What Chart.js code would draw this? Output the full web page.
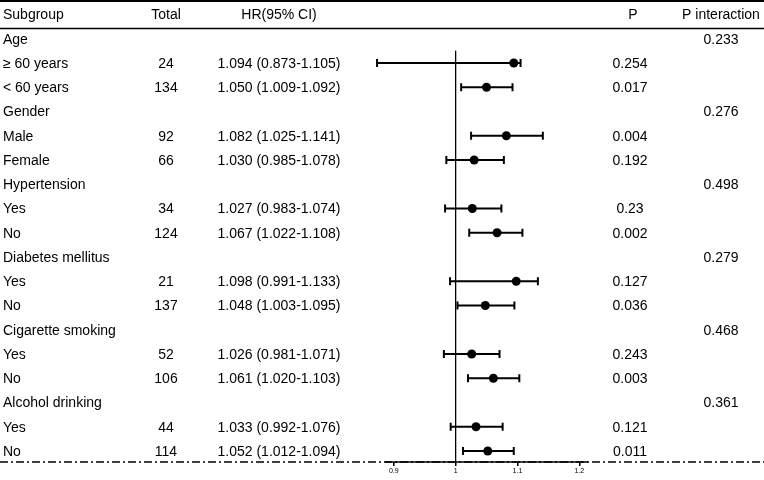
<!DOCTYPE html>
<html lang="en">
<head>
<meta charset="UTF-8">
<title>Subgroup analysis forest plot</title>
<script src="https://cdn.jsdelivr.net/npm/chart.js"></script>
<style>
  body { margin: 0; background: #fff; }
  #wrap { width: 764px; height: 480px; }
</style>
</head>
<body>
<div id="wrap"><canvas id="forest" width="764" height="480"></canvas></div>
<script>
// table rows (row 0 is the header)
const subgroups = ['Age', '≥ 60 years', '< 60 years', 'Gender', 'Male', 'Female',
  'Hypertension', 'Yes', 'No', 'Diabetes mellitus', 'Yes', 'No',
  'Cigarette smoking', 'Yes', 'No', 'Alcohol drinking', 'Yes', 'No'];
const totals = ['', '24', '134', '', '92', '66', '', '34', '124', '', '21', '137', '', '52', '106', '', '44', '114'];
const hr    = [null, 1.094, 1.050, null, 1.082, 1.030, null, 1.027, 1.067, null, 1.098, 1.048, null, 1.026, 1.061, null, 1.033, 1.052];
const lower = [null, 0.873, 1.009, null, 1.025, 0.985, null, 0.983, 1.022, null, 0.991, 1.003, null, 0.981, 1.020, null, 0.992, 1.012];
const upper = [null, 1.105, 1.092, null, 1.141, 1.078, null, 1.074, 1.108, null, 1.133, 1.095, null, 1.071, 1.103, null, 1.076, 1.094];
const pValues = ['', '0.254', '0.017', '', '0.004', '0.192', '', '0.23', '0.002', '', '0.127', '0.036', '', '0.243', '0.003', '', '0.121', '0.011'];
const pInteraction = ['0.233', '', '', '0.276', '', '', '0.498', '', '', '0.279', '', '', '0.468', '', '', '0.361', '', ''];
const xTicks = [0.9, 1, 1.1, 1.2];
const axisRange = [0.886, 1.214];   // extent of the solid axis line
const nullEffect = 1;

const FONT = '"Liberation Sans", Arial, sans-serif';

// build datasets from the arrays; row index = i + 1
const ciLine = [], caps = [], points = [];
hr.forEach((v, i) => {
  if (v === null) return;
  const r = i + 1;
  ciLine.push({ x: lower[i], y: r }, { x: upper[i], y: r }, { x: upper[i], y: null });
  caps.push({ x: lower[i], y: r }, { x: upper[i], y: r });
  points.push({ x: v, y: r });
});
const yMin = 0.64, yMax = 18.454;

const tablePlugin = {
  id: 'tableText',
  beforeDraw(chart) {
    const ctx = chart.ctx;
    const x = chart.scales.x;
    ctx.save();
    // dash-dot rule along the axis, full width
    ctx.strokeStyle = '#000';
    ctx.lineWidth = 1.5;
    ctx.setLineDash([8, 3, 2, 3]);
    ctx.beginPath();
    ctx.moveTo(0, x.top);
    ctx.lineTo(chart.width, x.top);
    ctx.stroke();
    ctx.restore();
  },
  afterDraw(chart) {
    const ctx = chart.ctx;
    const x = chart.scales.x;
    const y = chart.scales.y;
    ctx.save();
    ctx.fillStyle = '#000';
    ctx.strokeStyle = '#000';
    // solid axis line
    ctx.lineWidth = 1.5;
    ctx.beginPath();
    ctx.moveTo(x.getPixelForValue(axisRange[0]), x.top);
    ctx.lineTo(x.getPixelForValue(axisRange[1]), x.top);
    ctx.stroke();
    // top rules
    ctx.lineWidth = 2;
    ctx.beginPath(); ctx.moveTo(0, 1); ctx.lineTo(chart.width, 1); ctx.stroke();
    ctx.lineWidth = 1.5;
    ctx.beginPath(); ctx.moveTo(0, 28.5); ctx.lineTo(chart.width, 28.5); ctx.stroke();

    ctx.font = '14px ' + FONT;
    ctx.textBaseline = 'middle';
    const hy = y.getPixelForValue(0) + 1;
    ctx.textAlign = 'left';   ctx.fillText('Subgroup', 3, hy);
    ctx.textAlign = 'center';
    ctx.fillText('Total', 166, hy);
    ctx.fillText('HR(95% CI)', 279, hy);
    ctx.fillText('P', 633, hy);
    ctx.fillText('P interaction', 721, hy);

    subgroups.forEach((s, i) => {
      const py = y.getPixelForValue(i + 1) + 1;
      ctx.textAlign = 'left';
      ctx.fillText(s, 3, py);
      ctx.textAlign = 'center';
      if (totals[i]) ctx.fillText(totals[i], 166, py);
      if (hr[i] !== null) {
        ctx.fillText(hr[i].toFixed(3) + ' (' + lower[i].toFixed(3) + '-' + upper[i].toFixed(3) + ')', 279, py);
      }
      if (pValues[i]) ctx.fillText(pValues[i], 630, py);
      if (pInteraction[i]) ctx.fillText(pInteraction[i], 721, py);
    });
    ctx.restore();
  }
};

new Chart(document.getElementById('forest'), {
  type: 'scatter',
  data: {
    datasets: [
      {
        type: 'line', data: [{ x: nullEffect, y: 1.5 }, { x: nullEffect, y: yMax }],
        borderColor: '#000', borderWidth: 1, pointRadius: 0, order: 4
      },
      {
        type: 'line', data: ciLine, borderColor: '#000', borderWidth: 2,
        pointRadius: 0, spanGaps: false, order: 3
      },
      {
        data: caps, pointStyle: 'line', rotation: 90, pointRadius: 4,
        borderColor: '#000', borderWidth: 2, order: 2
      },
      {
        data: points, pointStyle: 'circle', pointRadius: 4.5,
        backgroundColor: '#000', borderColor: '#000', borderWidth: 0, order: 1
      }
    ]
  },
  options: {
    responsive: false,
    animation: false,
    layout: { padding: { top: 30, left: 369, right: 176, bottom: 0 } },
    plugins: { legend: { display: false }, tooltip: { enabled: false } },
    scales: {
      x: {
        type: 'linear', min: 0.86, max: 1.214,
        afterBuildTicks: s => { s.ticks = xTicks.map(v => ({ value: v })); },
        afterFit: s => { s.height = 18; },
        grid: { display: true, drawOnChartArea: false, drawTicks: true, tickLength: 4, color: '#000', lineWidth: 1.5 },
        border: { display: false },
        ticks: {
          font: { size: 7, family: FONT }, color: '#000', padding: 1,
          maxRotation: 0, autoSkip: false, callback: v => String(v)
        }
      },
      y: { type: 'linear', reverse: true, min: yMin, max: yMax, display: false }
    }
  },
  plugins: [tablePlugin]
});
</script>
</body>
</html>
